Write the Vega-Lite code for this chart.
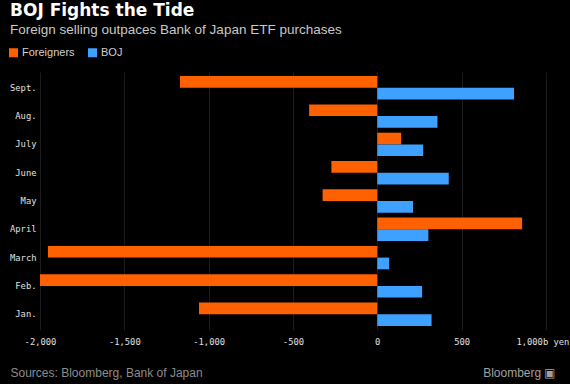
{
  "$schema": "https://vega.github.io/schema/vega-lite/v6.json",
  "autosize": {"type": "none"},
  "width": 530,
  "height": 258,
  "padding": {"left": 40, "top": 72, "right": 0, "bottom": 54},
  "background": "#000000",
  "title": {
    "text": "BOJ Fights the Tide",
    "subtitle": "Foreign selling outpaces Bank of Japan ETF purchases",
    "anchor": "start",
    "frame": "group",
    "dx": -30,
    "offset": 10,
    "font": "DejaVu Sans",
    "fontSize": 17,
    "fontWeight": "bold",
    "color": "#ffffff",
    "subtitleFont": "Liberation Sans",
    "subtitleFontSize": 13.5,
    "subtitleColor": "#c8c8c8",
    "subtitlePadding": 3
  },
  "data": {
    "values": [
      {"month": "Sept.", "series": "Foreigners", "value": -1170},
      {"month": "Sept.", "series": "BOJ", "value": 811},
      {"month": "Aug.", "series": "Foreigners", "value": -404},
      {"month": "Aug.", "series": "BOJ", "value": 357},
      {"month": "July", "series": "Foreigners", "value": 142},
      {"month": "July", "series": "BOJ", "value": 272},
      {"month": "June", "series": "Foreigners", "value": -272},
      {"month": "June", "series": "BOJ", "value": 424},
      {"month": "May", "series": "Foreigners", "value": -324},
      {"month": "May", "series": "BOJ", "value": 212},
      {"month": "April", "series": "Foreigners", "value": 859},
      {"month": "April", "series": "BOJ", "value": 303},
      {"month": "March", "series": "Foreigners", "value": -1953},
      {"month": "March", "series": "BOJ", "value": 70},
      {"month": "Feb.", "series": "Foreigners", "value": -2000},
      {"month": "Feb.", "series": "BOJ", "value": 266},
      {"month": "Jan.", "series": "Foreigners", "value": -1057},
      {"month": "Jan.", "series": "BOJ", "value": 322}
    ]
  },
  "mark": {"type": "bar", "cornerRadius": 0},
  "encoding": {
    "y": {
      "field": "month",
      "type": "nominal",
      "sort": ["Sept.", "Aug.", "July", "June", "May", "April", "March", "Feb.", "Jan."],
      "scale": {"paddingInner": 0.173, "paddingOuter": 0.145},
      "axis": {
        "title": "Bloomberg ▣",
        "titleAngle": 0,
        "titleX": 515,
        "titleY": 300,
        "titleAlign": "right",
        "titleBaseline": "middle",
        "titleFont": "Liberation Sans",
        "titleFontSize": 12,
        "titleFontWeight": "normal",
        "titleColor": "#a0a0a0",
        "domain": false,
        "ticks": false,
        "labelPadding": 4,
        "labelFont": "DejaVu Sans Mono",
        "labelFontSize": 8.8,
        "labelColor": "#e0e0e0"
      }
    },
    "yOffset": {
      "field": "series",
      "type": "nominal",
      "sort": ["Foreigners", "BOJ"],
      "scale": {"paddingInner": 0, "paddingOuter": 0}
    },
    "x": {
      "field": "value",
      "type": "quantitative",
      "scale": {"domain": [-2000, 1143], "nice": false, "zero": false},
      "axis": {
        "values": [-2000, -1500, -1000, -500, 0, 500, 1000],
        "labelExpr": "datum.value == 1000 ? '1,000b yen' : replace(format(datum.value, ','), '−', '-')",
        "labelAlign": {"condition": {"test": "datum.value == 1000", "value": "right"}, "value": "center"},
        "labelOffset": {"condition": {"test": "datum.value == 1000", "value": 23}, "value": 0},
        "labelBound": false,
        "domain": false,
        "ticks": false,
        "grid": true,
        "gridColor": "#1c1c1c",
        "gridWidth": 1,
        "labelPadding": 7,
        "labelFont": "DejaVu Sans Mono",
        "labelFontSize": 8.8,
        "labelColor": "#e0e0e0",
        "title": "Sources: Bloomberg, Bank of Japan",
        "titleX": -30,
        "titleY": 42,
        "titleAlign": "left",
        "titleBaseline": "middle",
        "titleFont": "Liberation Sans",
        "titleFontSize": 12,
        "titleFontWeight": "normal",
        "titleColor": "#8c8c8c"
      }
    },
    "color": {
      "field": "series",
      "type": "nominal",
      "scale": {"domain": ["Foreigners", "BOJ"], "range": ["#ff6000", "#3fa1ff"]},
      "legend": {
        "title": null,
        "orient": "none",
        "legendX": -32,
        "legendY": -25,
        "direction": "horizontal",
        "symbolType": "square",
        "symbolSize": 81,
        "symbolStrokeWidth": 0,
        "symbolOpacity": 1,
        "labelFont": "Liberation Sans",
        "labelFontSize": 11,
        "labelColor": "#d0d0d0",
        "labelOffset": 3,
        "columnPadding": 12
      }
    }
  },
  "config": {
    "view": {"stroke": null},
    "axis": {"gridOpacity": 1}
  }
}
